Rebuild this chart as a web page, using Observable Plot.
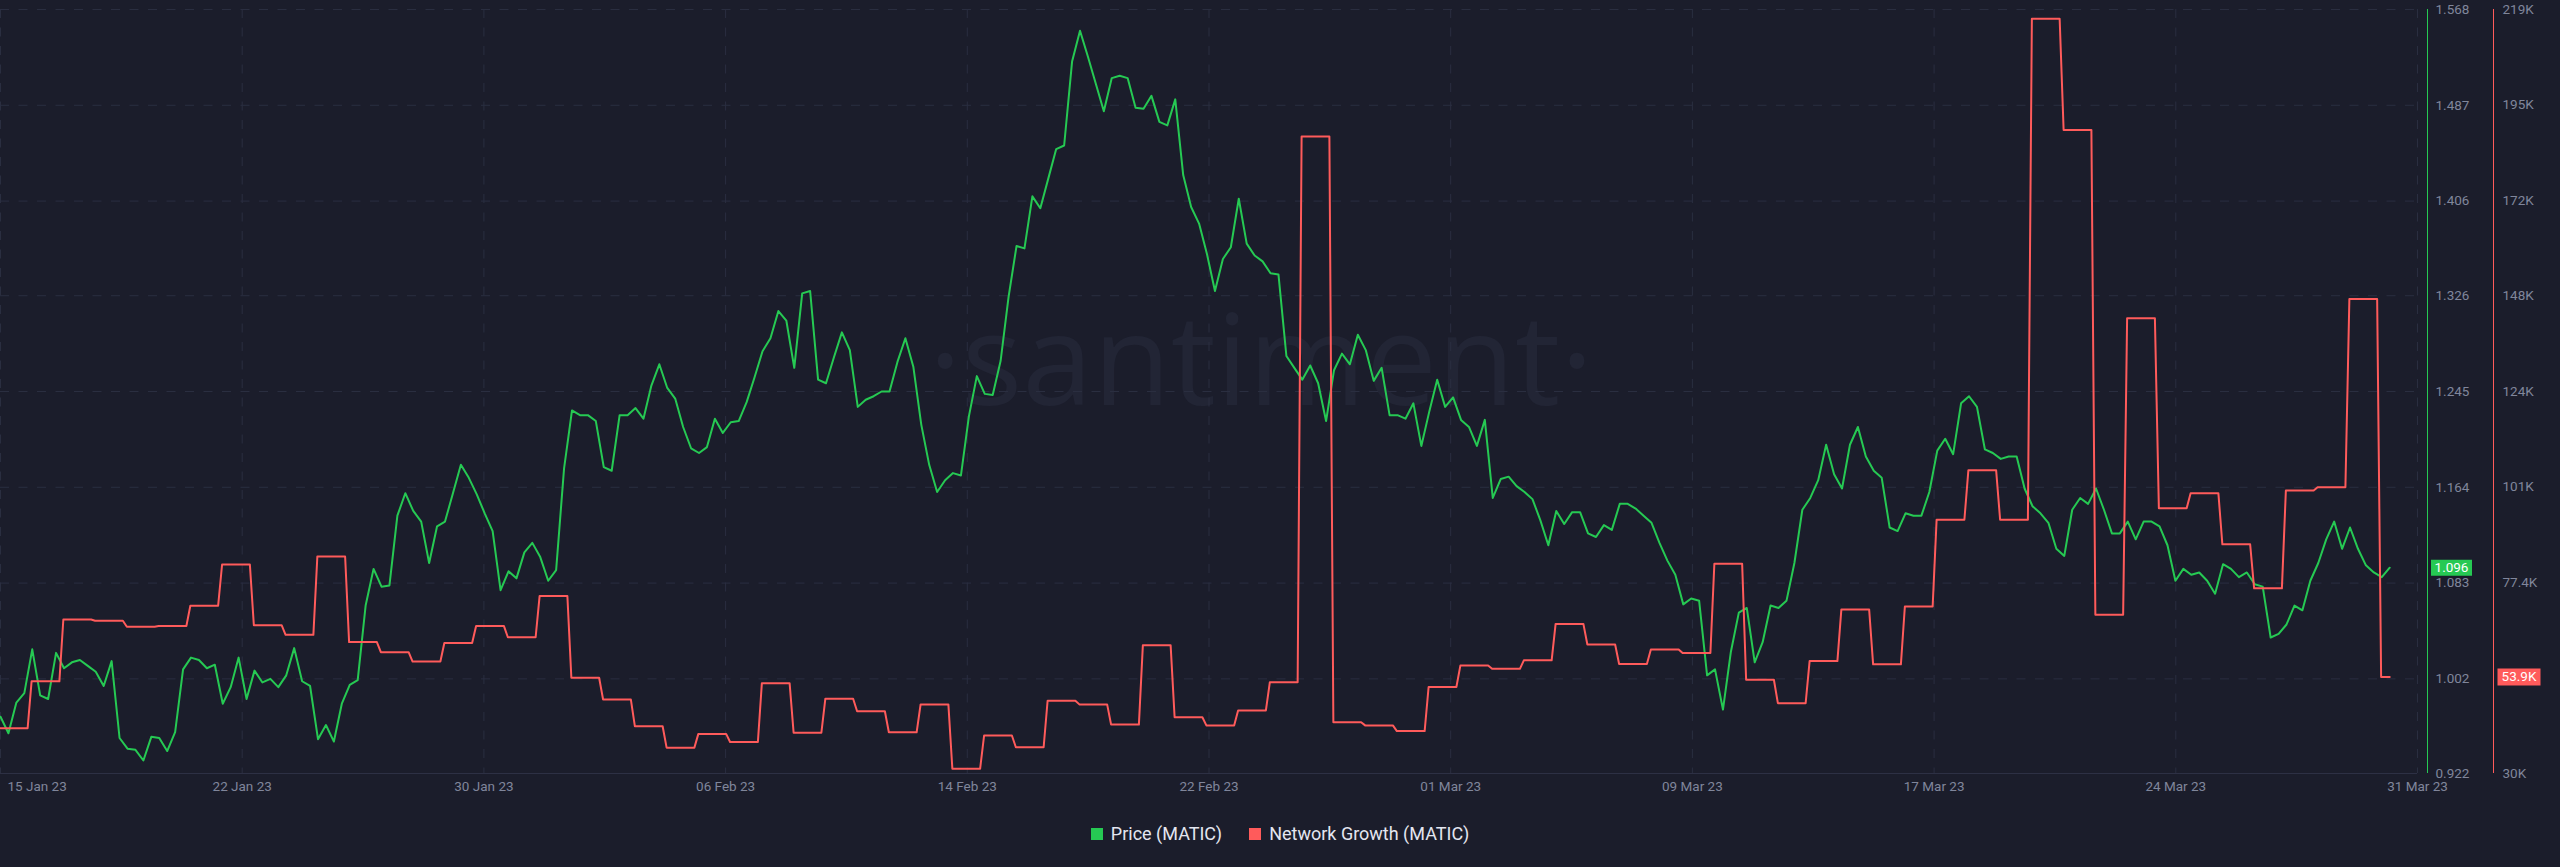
<!DOCTYPE html>
<html>
<head>
<meta charset="utf-8">
<script src="https://cdn.jsdelivr.net/npm/d3@7"></script>
<script src="https://cdn.jsdelivr.net/npm/@observablehq/plot@0.6"></script>
<style>
  html, body { margin: 0; padding: 0; background: #1b1d2b; width: 2560px; height: 867px; overflow: hidden; }
  #chart { position: relative; width: 2560px; height: 810px; }
  #chart svg { position: absolute; left: 0; top: 0; }
  #legend { position: absolute; top: 824px; left: 0; width: 2560px; display: flex; justify-content: center; gap: 27px;
            font-family: Roboto, sans-serif; font-size: 18px; line-height: 20px; color: #e4e6f0; }
  #legend .item { display: flex; align-items: center; gap: 8px; }
  #legend .sw { width: 12px; height: 12px; display: inline-block; }
</style>
</head>
<body>
<div id="chart"></div>
<div id="legend"></div>
<script>
// ---------- data ----------
const seriesNames = ["Price (MATIC)", "Network Growth (MATIC)"];
const seriesColors = ["#26c953", "#ff5b5b"];

// price samples every 6 hours starting 2023-01-14 02:00 UTC
const priceStart = "2023-01-14T02:00:00Z";
const priceStepHours = 6;
const price = [
  0.970, 0.956, 0.982, 0.990, 1.027, 0.988, 0.985, 1.024, 1.011, 1.016,
  1.018, 1.013, 1.008, 0.996, 1.017, 0.952, 0.943, 0.942, 0.933, 0.953,
  0.952, 0.941, 0.957, 1.010, 1.020, 1.018, 1.011, 1.014, 0.981, 0.995,
  1.020, 0.985, 1.009, 0.999, 1.002, 0.995, 1.005, 1.028, 1.000, 0.996,
  0.951, 0.963, 0.949, 0.981, 0.997, 1.001, 1.064, 1.095, 1.080, 1.081,
  1.140, 1.159, 1.144, 1.135, 1.100, 1.131, 1.135, 1.159, 1.183, 1.172,
  1.158, 1.142, 1.127, 1.077, 1.093, 1.087, 1.109, 1.117, 1.105, 1.085,
  1.094, 1.180, 1.229, 1.225, 1.225, 1.220, 1.181, 1.178, 1.225, 1.225,
  1.231, 1.222, 1.250, 1.268, 1.248, 1.239, 1.215, 1.197, 1.193, 1.198,
  1.222, 1.210, 1.219, 1.220, 1.236, 1.257, 1.279, 1.290, 1.313, 1.305,
  1.265, 1.328, 1.330, 1.255, 1.252, 1.274, 1.295, 1.280, 1.232, 1.238,
  1.241, 1.245, 1.245, 1.270, 1.290, 1.266, 1.217, 1.183, 1.160, 1.170,
  1.176, 1.174, 1.224, 1.258, 1.243, 1.242, 1.271, 1.325, 1.368, 1.366,
  1.410, 1.400, 1.425, 1.450, 1.453, 1.524, 1.550, 1.528, 1.505, 1.482,
  1.510, 1.512, 1.510, 1.485, 1.484, 1.495, 1.473, 1.470, 1.492, 1.428,
  1.401, 1.387, 1.361, 1.330, 1.357, 1.367, 1.408, 1.370, 1.360, 1.355,
  1.345, 1.344, 1.275, 1.265, 1.255, 1.267, 1.252, 1.220, 1.263, 1.277,
  1.268, 1.293, 1.280, 1.254, 1.265, 1.225, 1.225, 1.222, 1.235, 1.199,
  1.228, 1.255, 1.232, 1.240, 1.221, 1.215, 1.199, 1.221, 1.155, 1.171,
  1.173, 1.165, 1.160, 1.154, 1.136, 1.115, 1.144, 1.133, 1.143, 1.143,
  1.125, 1.122, 1.132, 1.128, 1.150, 1.150, 1.146, 1.140, 1.134, 1.117,
  1.102, 1.090, 1.065, 1.070, 1.068, 1.005, 1.010, 0.976, 1.025, 1.058,
  1.062, 1.016, 1.033, 1.064, 1.062, 1.068, 1.100, 1.145, 1.155, 1.170,
  1.200, 1.175, 1.163, 1.200, 1.215, 1.190, 1.178, 1.172, 1.130, 1.127,
  1.142, 1.140, 1.140, 1.160, 1.195, 1.205, 1.192, 1.235, 1.241, 1.232,
  1.196, 1.193, 1.188, 1.190, 1.190, 1.163, 1.148, 1.142, 1.134, 1.112,
  1.106, 1.145, 1.155, 1.150, 1.163, 1.145, 1.125, 1.125, 1.135, 1.120,
  1.135, 1.135, 1.131, 1.115, 1.085, 1.095, 1.090, 1.092, 1.085, 1.074,
  1.099, 1.095, 1.088, 1.092, 1.082, 1.080, 1.037, 1.040, 1.048, 1.064,
  1.060, 1.085, 1.100, 1.120, 1.135, 1.112, 1.130, 1.112, 1.098, 1.092,
  1.088, 1.096
];

// daily network growth, first day 2023-01-14 (UTC)
const networkStartDay = [2023, 0, 14];
const networkGrowth = [
  41200, 52800, 68100, 67800, 66300, 66500, 71500, 81700, 66700, 64300,
  83700, 62500, 60000, 57700, 62300, 66500, 63700, 73900, 53700, 48300,
  41700, 36400, 39800, 37800, 52300, 40100, 48500, 45400, 40200, 47100,
  31200, 39400, 36500, 48000, 47100, 42100, 61700, 43900, 41900, 45600,
  52600, 187600, 42700, 41900, 40500, 51400, 56700, 55900, 58000, 67000,
  61900, 57100, 60700, 59800, 81900, 53200, 47400, 57800, 70600, 57000,
  71300, 92800, 105000, 92800, 216700, 189200, 69300, 142600, 95600, 99300,
  86700, 75800, 100000, 100800, 147400, 53900
];

// axis ticks
const xTickLabels = ["15 Jan 23", "22 Jan 23", "30 Jan 23", "06 Feb 23", "14 Feb 23", "22 Feb 23",
                     "01 Mar 23", "09 Mar 23", "17 Mar 23", "24 Mar 23", "31 Mar 23"];
const xDomainStart = "2023-01-14T02:00:00Z";
const xDomainEnd = "2023-03-31T05:00:00Z";
const priceTicks = [0.922, 1.002, 1.083, 1.164, 1.245, 1.326, 1.406, 1.487, 1.568];
const networkTicks = [30000, 53625, 77250, 100875, 124500, 148125, 171750, 195375, 219000];
const networkTickLabels = ["30K", "53.6K", "77.4K", "101K", "124K", "148K", "172K", "195K", "219K"];

// ---------- build ----------
const HOUR = 3600e3;
const T0 = new Date(xDomainStart), T1 = new Date(xDomainEnd);
const GREEN = seriesColors[0], RED = seriesColors[1];
const GRID = "#2a2e40", BASE = "#2d3044", LABEL = "#80869b";

const priceData = price.map((v, i) => ({date: new Date(+new Date(priceStart) + i * priceStepHours * HOUR), value: v}));
const lastPrice = priceData[priceData.length - 1];
const endTime = +lastPrice.date;

const netData = [];
networkGrowth.forEach((v, k) => {
  const day = Date.UTC(networkStartDay[0], networkStartDay[1], networkStartDay[2] + k);
  const a = Math.max(day + 1.5 * HOUR, +T0);
  const b = Math.min(day + 22.5 * HOUR, endTime);
  netData.push({date: new Date(a), value: v}, {date: new Date(b), value: v});
});
const lastNet = netData[netData.length - 1];

const xTicks = xTickLabels.map((_, i) => new Date(+T0 + i * (T1 - T0) / (xTickLabels.length - 1)));
const xLabel = new Map(xTicks.map((d, i) => [+d, xTickLabels[i]]));
const netLabel = new Map(networkTicks.map((d, i) => [d, networkTickLabels[i]]));

const badge = (w, h) => ({draw(ctx) { ctx.rect(-w / 2, -h / 2, w, h); }});

const common = {
  width: 2560, height: 810, marginTop: 9, marginBottom: 37, marginLeft: 0, marginRight: 143,
  style: {background: "transparent", fontFamily: "Roboto, sans-serif", fontSize: "13.5px", overflow: "visible"}
};

const priceChart = Plot.plot({
  ...common,
  x: {type: "utc", domain: [T0, T1], label: null},
  y: {domain: [priceTicks[0], priceTicks[priceTicks.length - 1]], label: null},
  marks: [
    Plot.text(["·santiment·"], {frameAnchor: "middle", dx: 52, dy: -27, fontSize: 127,
      fontFamily: "Open Sans", fontWeight: 400, fill: "#222535"}),
    Plot.gridY(priceTicks.slice(1), {stroke: GRID, strokeOpacity: 1, strokeDasharray: "9,9.5"}),
    Plot.gridX(xTicks, {stroke: GRID, strokeOpacity: 1, strokeDasharray: "9,9.5"}),
    Plot.ruleY([priceTicks[0]], {stroke: BASE}),
    Plot.axisX(xTicks.slice(1), {tickSize: 0, tickPadding: 8, tickFormat: d => xLabel.get(+d), fill: LABEL, label: null}),
    Plot.axisX(xTicks.slice(0, 1), {tickSize: 0, tickPadding: 8, tickFormat: d => xLabel.get(+d),
      textAnchor: "start", dx: 7, fill: LABEL, label: null}),
    Plot.axisY(priceTicks, {anchor: "right", tickSize: 0, tickPadding: 18, tickFormat: d => d.toFixed(3),
      fill: LABEL, label: null}),
    Plot.ruleX([T1], {dx: 10, stroke: GREEN, strokeWidth: 1}),
    Plot.lineY(priceData, {x: "date", y: "value", stroke: GREEN, strokeWidth: 2}),
    Plot.dot([lastPrice], {y: "value", frameAnchor: "right", dx: 34, symbol: badge(41, 16), fill: GREEN}),
    Plot.text([lastPrice], {y: "value", frameAnchor: "right", dx: 34, text: d => d.value.toFixed(3),
      textAnchor: "middle", fill: "white", fontSize: 13.5})
  ]
});

const netChart = Plot.plot({
  ...common,
  x: {type: "utc", domain: [T0, T1], axis: null, label: null},
  y: {domain: [networkTicks[0], networkTicks[networkTicks.length - 1]], label: null},
  marks: [
    Plot.axisY(networkTicks, {anchor: "right", tickSize: 0, tickPadding: 85, tickFormat: d => netLabel.get(d),
      fill: LABEL, label: null}),
    Plot.ruleX([T1], {dx: 76, stroke: RED, strokeWidth: 1}),
    Plot.line(netData, {x: "date", y: "value", stroke: RED, strokeWidth: 2}),
    Plot.dot([lastNet], {y: "value", frameAnchor: "right", dx: 101.5, symbol: badge(43, 17), fill: RED}),
    Plot.text([lastNet], {y: "value", frameAnchor: "right", dx: 101.5, text: d => (d.value / 1000).toFixed(1) + "K",
      textAnchor: "middle", fill: "white", fontSize: 13.5})
  ]
});

const chart = document.getElementById("chart");
chart.appendChild(priceChart);
chart.appendChild(netChart);

const legend = document.getElementById("legend");
seriesNames.forEach((name, i) => {
  const item = document.createElement("span");
  item.className = "item";
  const sw = document.createElement("span");
  sw.className = "sw";
  sw.style.background = seriesColors[i];
  item.appendChild(sw);
  item.appendChild(document.createTextNode(name));
  legend.appendChild(item);
});
</script>
</body>
</html>
